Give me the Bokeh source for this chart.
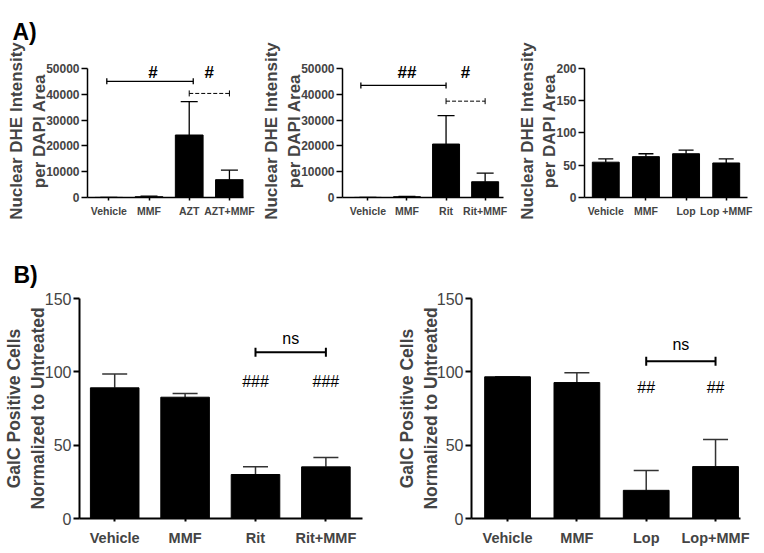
from bokeh.plotting import figure
from bokeh.models import (ColumnDataSource, Whisker, TeeHead, FixedTicker, Range1d,
                          NumeralTickFormatter)
from bokeh.layouts import column, row
from bokeh.embed import file_html
from bokeh.resources import INLINE
from bokeh.core.properties import value

FONT = "Liberation Sans"

# ---------------- data ----------------
a1_labels = ["Vehicle", "MMF", "AZT", "AZT+MMF"]
a1_mean = [40, 300, 24200, 6900]
a1_upper = [40, 500, 37100, 10600]

a2_labels = ["Vehicle", "MMF", "Rit", "Rit+MMF"]
a2_mean = [40, 300, 20700, 6100]
a2_upper = [40, 450, 31700, 9400]

a3_labels = ["Vehicle", "MMF", "Lop", "Lop +MMF"]
a3_mean = [54.7, 63.3, 67.8, 53.5]
a3_upper = [59.7, 67.8, 73.4, 59.7]

b1_labels = ["Vehicle", "MMF", "Rit", "Rit+MMF"]
b1_mean = [89.1, 82.7, 30.0, 35.2]
b1_upper = [98.6, 85.2, 35.3, 41.6]

b2_labels = ["Vehicle", "MMF", "Lop", "Lop+MMF"]
b2_mean = [96.6, 92.7, 19.2, 35.4]
b2_upper = [96.6, 99.3, 32.8, 53.8]

a_ticks = [0, 10000, 20000, 30000, 40000, 50000]
a3_ticks = [0, 50, 100, 150, 200]
b_ticks = [0, 50, 100, 150]

# significance brackets (from category, to category, height)
a1_solid = dict(x0=[0.95], x1=[3.1], y=[45000])
a1_dash = dict(x0=[3.0], x1=[4.0], y=[40300])
a1_marks = dict(x=[2.1, 3.5], y=[48400, 48400], t=["#", "#"])

a2_solid = dict(x0=[0.82], x1=[3.0], y=[43400])
a2_dash = dict(x0=[3.0], x1=[4.0], y=[37300])
a2_marks = dict(x=[2.0, 3.5], y=[48400, 48400], t=["##", "#"])

b1_bracket = dict(x0=[3.0], x1=[4.0], y=[113.4])
b1_marks = dict(x=[3.0, 4.0], y=[93.6, 93.6], t=["###", "###"])
b1_ns = dict(x=[3.5], y=[122.7], t=["ns"])

b2_bracket = dict(x0=[3.0], x1=[4.0], y=[107.3])
b2_marks = dict(x=[3.0, 4.0], y=[89.5, 89.5], t=["##", "##"])
b2_ns = dict(x=[3.5], y=[118.6], t=["ns"])

A_TITLE = "Nuclear DHE Intensity\nper DAPI Area"
B_TITLE = "GalC Positive Cells\nNormalized to Untreated"


def panel(labels, mean, upper, width, height, borders, xr, yr, ybounds, yticks,
          bar_w, cap, title, title_size, tick_font_size, tick_bold, cat_size,
          cat_standoff, axis_lw, err_color, err_lw, label_standoff):
    left, right, top, bottom = borders
    p = figure(width=width, height=height, output_backend="svg", toolbar_location=None,
               x_range=Range1d(*xr), y_range=Range1d(*yr),
               min_border_left=left, min_border_right=right,
               min_border_top=top, min_border_bottom=bottom)
    p.outline_line_color = None
    p.xgrid.visible = False
    p.ygrid.visible = False
    p.background_fill_color = "white"
    xs = list(range(1, len(labels) + 1))
    src = ColumnDataSource(dict(x=xs, top=mean, up=upper))
    p.vbar(x="x", top="top", bottom=0, width=bar_w, source=src,
           fill_color="black", line_color="black")
    w = Whisker(base="x", lower="top", upper="up", source=src, dimension="height",
                line_color=err_color, line_width=err_lw,
                upper_head=TeeHead(size=cap, line_color=err_color, line_width=err_lw),
                lower_head=None)
    p.add_layout(w)

    # axes
    p.xaxis.ticker = FixedTicker(ticks=xs)
    p.xaxis.major_label_overrides = {x: lab for x, lab in zip(xs, labels)}
    p.xaxis.major_label_text_font = FONT
    p.xaxis.major_label_text_font_style = "bold"
    p.xaxis.major_label_text_font_size = cat_size
    p.xaxis.major_label_standoff = cat_standoff
    p.xaxis.major_tick_out = 3
    p.xaxis.major_tick_in = 0
    p.xaxis.minor_tick_line_color = None
    p.xaxis.axis_line_width = axis_lw
    p.xaxis.major_tick_line_width = axis_lw
    p.xaxis.axis_line_color = "black"

    p.yaxis.ticker = FixedTicker(ticks=yticks)
    p.yaxis.bounds = ybounds
    p.yaxis.formatter = NumeralTickFormatter(format="0")
    p.yaxis.major_label_text_font = FONT
    p.yaxis.major_label_text_font_style = "bold" if tick_bold else "normal"
    p.yaxis.major_label_text_font_size = tick_font_size
    p.yaxis.major_label_standoff = 2
    p.yaxis.major_tick_out = 6
    p.yaxis.major_tick_in = 0
    p.yaxis.minor_tick_line_color = None
    p.yaxis.axis_line_width = axis_lw
    p.yaxis.major_tick_line_width = axis_lw
    p.yaxis.axis_line_color = "black"
    p.yaxis.axis_label = title
    p.yaxis.axis_label_text_font = FONT
    p.yaxis.axis_label_text_font_style = "bold"
    p.yaxis.axis_label_text_font_size = title_size
    p.yaxis.axis_label_text_line_height = 1.2
    p.yaxis.axis_label_standoff = label_standoff
    return p


def bracket(p, d, dash, lw, cap):
    src = ColumnDataSource(d)
    w = Whisker(base="y", lower="x0", upper="x1", source=src, dimension="width",
                line_color="black", line_width=lw, line_dash=dash,
                lower_head=TeeHead(size=cap, line_color="black", line_width=lw),
                upper_head=TeeHead(size=cap, line_color="black", line_width=lw))
    p.add_layout(w)


def marks(p, d, size, style):
    src = ColumnDataSource(d)
    p.text(x="x", y="y", text="t", source=src, text_font=value(FONT),
           text_font_size=size, text_font_style=style, text_align="center",
           text_baseline="middle", text_color="black")


def panel_letter(p, letter, offset, standoff):
    p.title.text = letter
    p.title.align = "left"
    p.title.vertical_align = "top"
    p.title.offset = offset
    p.title.standoff = standoff
    p.title.text_font = FONT
    p.title.text_font_size = "23px"
    p.title.text_font_style = "bold"
    p.title.text_color = "black"
    p.title.text_line_height = 0.7


# ---------------- row A ----------------
fa1 = panel(a1_labels, a1_mean, a1_upper, 259, 222, (87, 16, 62, 25),
            (0.47, 4.35), (0, 51500), (0, 50000), a_ticks, 0.69, 17, A_TITLE, "17px",
            "12px", True, "10.5px", 4, 1.5, "black", 1.3, -6)
bracket(fa1, a1_solid, "solid", 1.3, 6)
bracket(fa1, a1_dash, "4 2", 1.0, 6)
marks(fa1, a1_marks, "17px", "bold")
panel_letter(fa1, "A)", -75, 36)

fa2 = panel(a2_labels, a2_mean, a2_upper, 255, 222, (78, 11, 62, 25),
            (0.35, 4.47), (0, 51500), (0, 50000), a_ticks, 0.69, 17, A_TITLE, "17px",
            "12px", True, "10.5px", 4, 1.5, "black", 1.3, -6)
bracket(fa2, a2_solid, "solid", 1.3, 6)
bracket(fa2, a2_dash, "4 2", 1.0, 6)
marks(fa2, a2_marks, "17px", "bold")

fa3 = panel(a3_labels, a3_mean, a3_upper, 249, 222, (65, 16, 62, 25),
            (0.47, 4.53), (0, 206), (0, 200), a3_ticks, 0.67, 15, A_TITLE, "17px",
            "12px", True, "10.5px", 4, 1.5, "black", 1.3, -6)

# ---------------- row B ----------------
fb1 = panel(b1_labels, b1_mean, b1_upper, 393, 330, (78, 31, 76, 34),
            (0.5, 4.52), (0, 150), (0, 150), b_ticks, 0.69, 25, B_TITLE, "17.5px",
            "16px", False, "14.5px", 8, 2, "#333333", 1.5, -6)
bracket(fb1, b1_bracket, "solid", 2, 9)
marks(fb1, b1_marks, "16px", "normal")
marks(fb1, b1_ns, "16px", "normal")
panel_letter(fb1, "B)", -66, 17)

fb2 = panel(b2_labels, b2_mean, b2_upper, 370, 330, (70, 23, 76, 34),
            (0.48, 4.36), (0, 150), (0, 150), b_ticks, 0.66, 25, B_TITLE, "17.5px",
            "16px", False, "14.5px", 8, 2, "#333333", 1.5, -7)
bracket(fb2, b2_bracket, "solid", 2, 9)
marks(fb2, b2_marks, "16px", "normal")
marks(fb2, b2_ns, "16px", "normal")

layout = column(row(fa1, fa2, fa3, spacing=0), row(fb1, fb2, spacing=0), spacing=0)

open("out.html", "w").write(file_html(layout, INLINE))
